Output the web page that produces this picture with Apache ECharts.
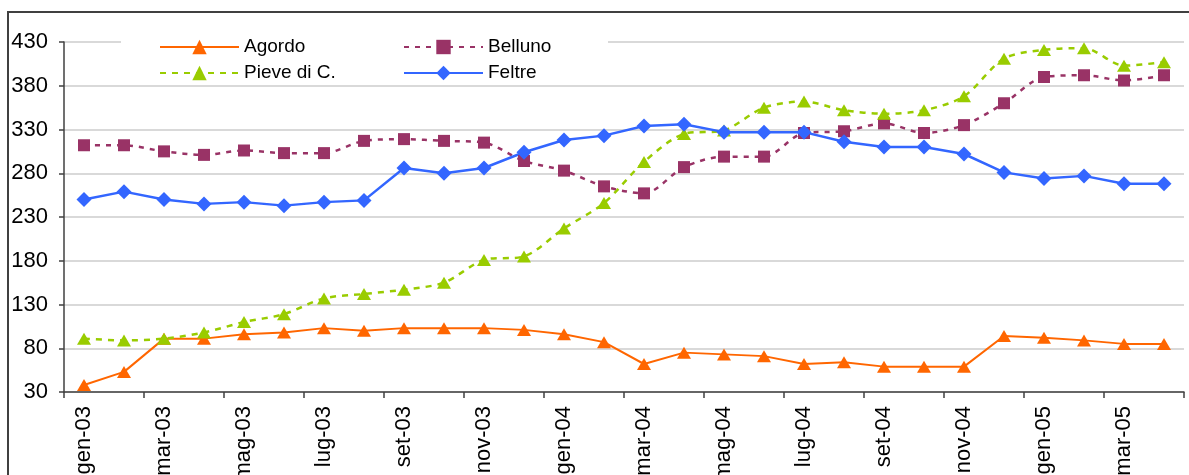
<!DOCTYPE html>
<html>
<head>
<meta charset="utf-8">
<script src="https://cdn.jsdelivr.net/npm/echarts@6/dist/echarts.min.js"></script>
<style>
  html, body { margin: 0; padding: 0; background: #fff; }
  #chart { width: 1189px; height: 475px; }
</style>
</head>
<body>
<div id="chart"></div>
<script>
// Monthly categories, gen-03 .. apr-05
const months = ['gen-03','feb-03','mar-03','apr-03','mag-03','giu-03','lug-03','ago-03','set-03','ott-03','nov-03','dic-03',
                'gen-04','feb-04','mar-04','apr-04','mag-04','giu-04','lug-04','ago-04','set-04','ott-04','nov-04','dic-04',
                'gen-05','feb-05','mar-05','apr-05'];

const agordo = [38, 53, 91, 91, 96, 98, 103, 100, 103, 103, 103, 101,
                96, 87, 62, 75, 73, 71, 62, 64, 59, 59, 59, 94,
                92, 89, 85, 85];
const belluno = [312, 312, 305, 301, 306, 303, 303, 317, 319, 317, 315, 294,
                 283, 265, 257, 287, 299, 299, 326, 328, 337, 326, 335, 360,
                 390, 392, 386, 392];
const pieve = [91, 89, 91, 98, 110, 119, 137, 142, 147, 155, 181, 185,
               217, 246, 293, 325, 329, 355, 362, 352, 348, 352, 368, 411,
               421, 423, 403, 407];
const feltre = [250, 259, 250, 245, 247, 243, 247, 249, 286, 280, 286, 304,
                318, 323, 334, 336, 327, 327, 327, 316, 310, 310, 302, 281,
                274, 277, 268, 268];

const yMin = 30, yMax = 430, yStep = 50;
const FONT = 'Liberation Sans, Arial, sans-serif';

const chart = echarts.init(document.getElementById('chart'), null, { renderer: 'canvas' });

const legendText = { fontFamily: FONT, fontSize: 19, color: '#000', lineHeight: 20 };

chart.setOption({
  animation: false,
  backgroundColor: '#fff',
  grid: { left: 64, right: 5, top: 42, bottom: 83, containLabel: false, outerBoundsMode: 'none' },
  graphic: [
    // outer frame
    { type: 'rect', z: 10, silent: true,
      shape: { x: 8, y: 12, width: 1400, height: 700 },
      style: { fill: 'none', stroke: '#404040', lineWidth: 2 } },
    // legend background
    { type: 'rect', z: 1, silent: true,
      shape: { x: 121, y: 34, width: 487, height: 50 },
      style: { fill: '#fff' } }
  ],
  legend: [
    { data: ['Agordo', 'Pieve di C.'], orient: 'vertical', left: 159, top: 37,
      itemWidth: 79, itemHeight: 18, itemGap: 6, padding: 0, textStyle: legendText },
    { data: ['Belluno', 'Feltre'], orient: 'vertical', left: 403, top: 37,
      itemWidth: 79, itemHeight: 18, itemGap: 6, padding: 0, textStyle: legendText }
  ],
  xAxis: {
    type: 'category',
    data: months,
    boundaryGap: true,
    axisLine: { lineStyle: { color: '#404040', width: 1.5 } },
    axisTick: { show: true, interval: 1, length: 6, lineStyle: { color: '#404040', width: 1.5 } },
    axisLabel: { interval: 1, rotate: 90, margin: 14, fontFamily: FONT, fontSize: 22, color: '#000' },
    splitLine: { show: false }
  },
  yAxis: {
    type: 'value',
    min: yMin, max: yMax, interval: yStep,
    axisLine: { show: true, lineStyle: { color: '#404040', width: 1.5 } },
    axisTick: { show: true, length: 5, lineStyle: { color: '#404040', width: 1.5 } },
    axisLabel: { margin: 16, fontFamily: FONT, fontSize: 22, color: '#000' },
    splitLine: { show: true, lineStyle: { color: '#d9d9d9', width: 2 } }
  },
  series: [
    { name: 'Agordo', type: 'line', data: agordo, z: 3,
      symbol: 'triangle', symbolSize: [14, 12], showAllSymbol: true,
      lineStyle: { color: '#FF6600', width: 2 },
      itemStyle: { color: '#FF6600', borderWidth: 0 } },
    { name: 'Belluno', type: 'line', data: belluno, z: 3, smooth: 0.3,
      symbol: 'rect', symbolSize: 12, showAllSymbol: true,
      lineStyle: { color: '#993366', width: 2.5, type: [5, 6] },
      itemStyle: { color: '#993366', borderWidth: 0 } },
    { name: 'Pieve di C.', type: 'line', data: pieve, z: 3, smooth: 0.3,
      symbol: 'triangle', symbolSize: [14, 12], showAllSymbol: true,
      lineStyle: { color: '#99CC00', width: 2.5, type: [6, 6] },
      itemStyle: { color: '#99CC00', borderWidth: 0 } },
    { name: 'Feltre', type: 'line', data: feltre, z: 3,
      symbol: 'diamond', symbolSize: 15, showAllSymbol: true,
      lineStyle: { color: '#3366FF', width: 2.5 },
      itemStyle: { color: '#3366FF', borderWidth: 0 } }
  ]
});
</script>
</body>
</html>
